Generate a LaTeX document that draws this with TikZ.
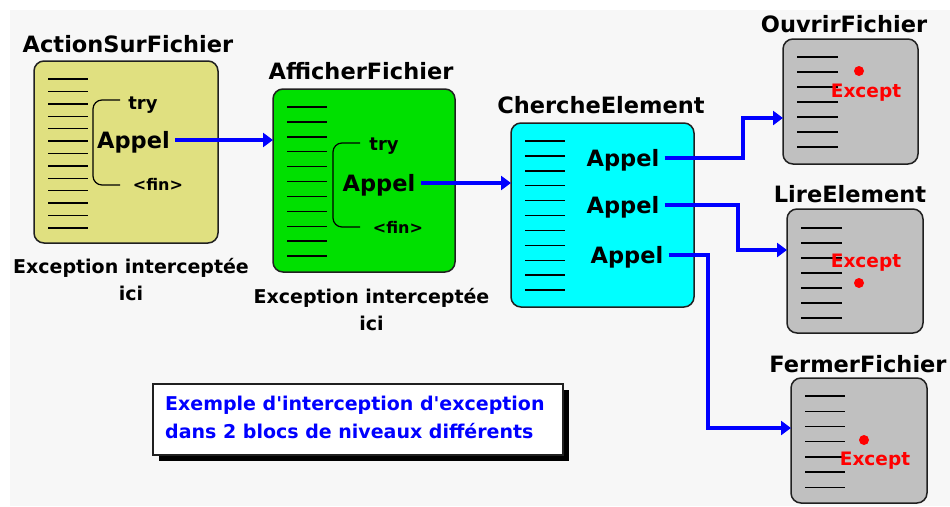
\documentclass[tikz,border=0pt]{standalone}
\usepackage{fontspec}
\setmainfont{DejaVu Sans}
\newfontfamily\plainfont{DejaVu Sans}
\usetikzlibrary{arrows.meta,calc}
\definecolor{bgc}{HTML}{F7F7F7}
\definecolor{cyel}{HTML}{E0E080}
\definecolor{cgrn}{HTML}{00E000}
\definecolor{ccya}{HTML}{00FFFF}
\definecolor{cgry}{HTML}{C0C0C0}
\definecolor{cblu}{HTML}{0000FF}
\definecolor{cred}{HTML}{FF0000}
\definecolor{cbrd}{HTML}{202020}
\tikzset{
  box/.style={draw=cbrd, line width=1.5pt, rounded corners=10pt, inner sep=0pt, outer sep=0pt},
  ttl/.style={anchor=base, inner sep=0pt, font=\fontsize{22.5}{27}\selectfont\bfseries},
  appel/.style={anchor=base, inner sep=5pt, text height=16pt, text depth=0pt, font=\fontsize{22.5}{27}\selectfont\bfseries},
  small/.style={anchor=base, inner sep=0pt, font=\fontsize{18}{22}\selectfont\bfseries},
  fin/.style={anchor=base, inner sep=0pt, font=\fontsize{16}{19}\selectfont\bfseries},
  exc/.style={anchor=base, inner sep=0pt, text=cred, font=\fontsize{18.5}{22}\selectfont\bfseries},
  capt/.style={anchor=base, inner sep=0pt, font=\fontsize{19}{23}\selectfont\bfseries},
  notetxt/.style={anchor=base west, inner sep=0pt, text=cblu, font=\plainfont\fontsize{19}{23}\selectfont\bfseries},
  rule/.style={line width=1.4pt, draw=black},
  brace/.style={line width=1.2pt, draw=black, rounded corners=9pt},
  arr/.style={line width=4pt, draw=cblu, -{Triangle[length=10pt,width=14pt]}},
  dot/.style={fill=cred, draw=none}
}
\begin{document}
\begin{tikzpicture}[x=1pt,y=-1pt]
\useasboundingbox (0,0) rectangle (950,506);
\fill[white] (0,0) rectangle (950,506);
\fill[bgc] (10,10) rectangle (950,506);

% ---------- boxes ----------
\node[box, fill=cyel, minimum width=184pt, minimum height=182pt] (action) at (126,152) {};
\node[box, fill=cgrn, minimum width=182pt, minimum height=183pt] (affich) at (364,180.5) {};
\node[box, fill=ccya, minimum width=183pt, minimum height=184pt] (cherche) at (602.5,215) {};
\node[box, fill=cgry, minimum width=135pt, minimum height=125pt] (ouvrir) at (850.5,101.5) {};
\node[box, fill=cgry, minimum width=136pt, minimum height=124pt] (lire) at (855,271) {};
\node[box, fill=cgry, minimum width=136pt, minimum height=125pt] (fermer) at (859,440.5) {};

% ---------- titles ----------
\node[ttl] (t1) at (128,52) {ActionSurFichier};
\node[ttl] (t2) at (361,79) {AfficherFichier};
\node[ttl] (t3) at (601,113) {ChercheElement};
\node[ttl] (t4) at (844,32) {OuvrirFichier};
\node[ttl] (t5) at (850,202) {LireElement};
\node[ttl] (t6) at (858,372) {FermerFichier};

% ---------- code lines ----------
\foreach \i in {0,...,12} \draw[rule] (48,{79+\i*12.4}) -- (88,{79+\i*12.4});
\foreach \i in {0,...,10} \draw[rule] (287,{107+\i*14.9}) -- (327,{107+\i*14.9});
\foreach \i in {0,...,10} \draw[rule] (525,{141+\i*14.9}) -- (565,{141+\i*14.9});
\foreach \i in {0,...,6} \draw[rule] (797,{57+\i*15}) -- (838,{57+\i*15});
\foreach \i in {0,...,6} \draw[rule] (801,{228+\i*15}) -- (842,{228+\i*15});
\foreach \i in {0,...,6} \draw[rule] (805,{396+\i*15.2}) -- (845,{396+\i*15.2});

% ---------- try blocks ----------
\draw[brace] (120,100) -- (93,100) -- (93,185) -- (120,185);
\draw[brace] (360,143) -- (333,143) -- (333,227) -- (360,227);
\node[small] (try1) at (143,109) {try};
\node[small] (try2) at (384,150) {try};
\node[fin] (fin1) at (158,190) {<fin>};
\node[fin] (fin2) at (398,233) {<fin>};

% ---------- Appel ----------
\node[appel] (ap1) at (133.5,148) {Appel};
\node[appel] (ap2) at (379,191) {Appel};
\node[appel] (ca1) at (623,166) {Appel};
\node[appel] (ca2) at (623,213) {Appel};
\node[appel] (ca3) at (627,263) {Appel};

% ---------- Except ----------
\fill[dot] (859,71) circle (5pt);
\fill[dot] (859,283) circle (5pt);
\fill[dot] (864,440) circle (5pt);
\node[exc] (e1) at (866,97) {Except};
\node[exc] (e2) at (866,267) {Except};
\node[exc] (e3) at (875,465) {Except};

% ---------- captions ----------
\node[capt] (cap1a) at (131,273) {Exception interceptée};
\node[capt] (cap1b) at (131,300) {ici};
\node[capt] (cap2a) at (371.5,303) {Exception interceptée};
\node[capt] (cap2b) at (371.5,330) {ici};

% ---------- note ----------
\fill[black] (159,390) rectangle (569,461);
\node[box, rounded corners=0pt, fill=white, minimum width=410pt, minimum height=71pt] (note) at (358,419.5) {};
\node[notetxt] (note1) at (165,410) {Exemple d'interception d'exception};
\node[notetxt] (note2) at (165,438) {dans 2 blocs de niveaux différents};

% ---------- arrows ----------
\coordinate (k1) at (743,118);
\coordinate (k2) at (738,250);
\coordinate (k3) at (708,428);
\draw[arr] (ap1.east) -- (ap1.east -| affich.west);
\draw[arr] (ap2.east) -- (ap2.east -| cherche.west);
\draw[arr] (ca1.east) -| (k1) -- (k1 -| ouvrir.west);
\draw[arr] (ca2.east) -| (k2) -- (k2 -| lire.west);
\draw[arr] (ca3.east) -| (k3) -- (k3 -| fermer.west);
\end{tikzpicture}
\end{document}
